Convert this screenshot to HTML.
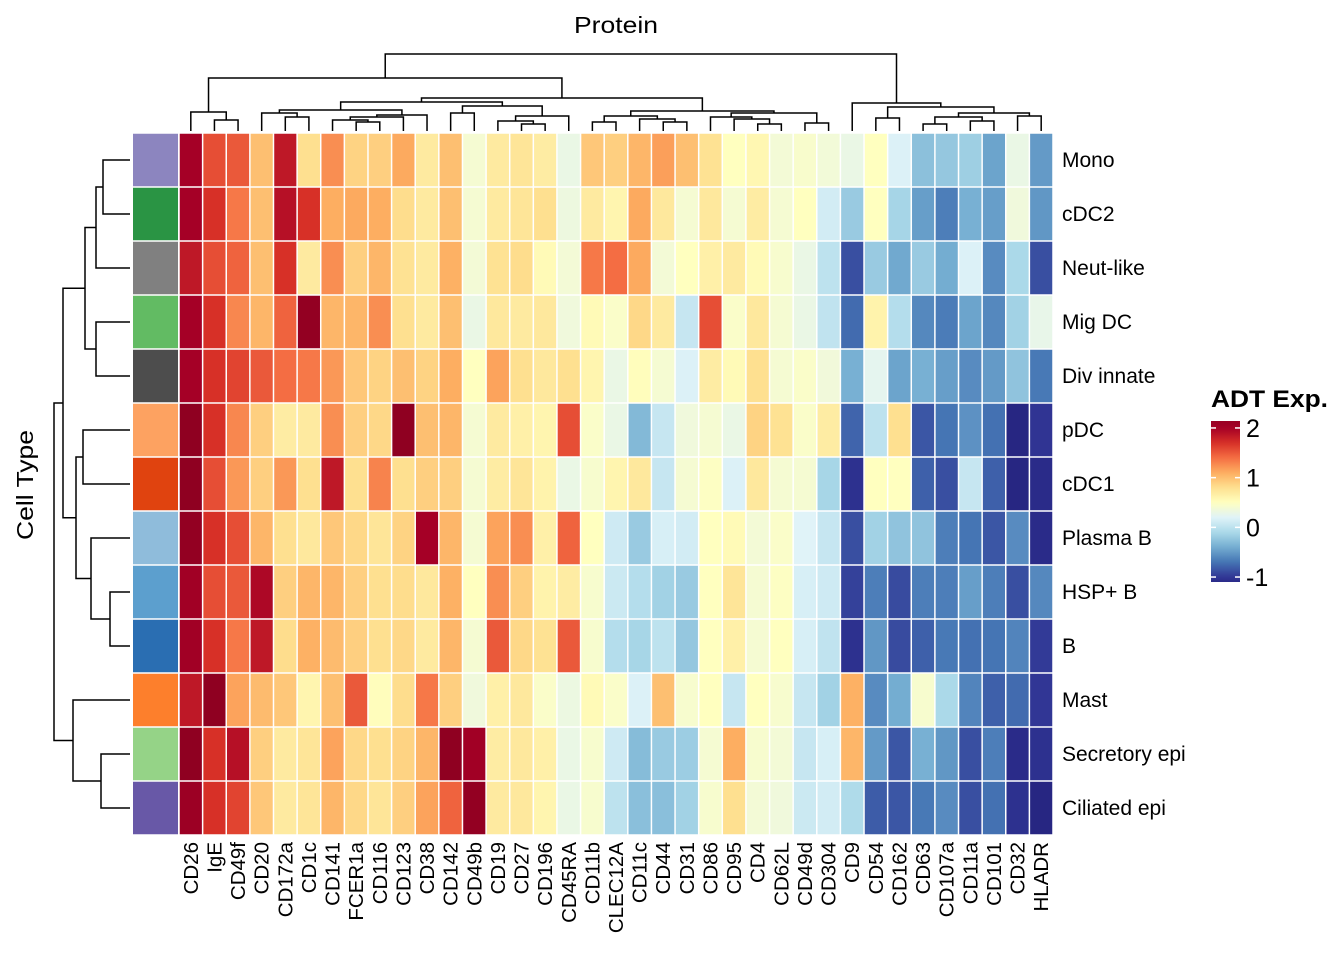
<!DOCTYPE html>
<html><head><meta charset="utf-8"><style>
body{margin:0;background:#fff;}
svg{display:block;font-family:"Liberation Sans",Arial,sans-serif;}
</style></head><body>
<svg id="chart" width="1344" height="960" viewBox="0 0 1344 960">
<text x="574" y="33" font-size="23" textLength="84" lengthAdjust="spacingAndGlyphs">Protein</text>
<text transform="translate(33,540) rotate(-90)" font-size="23" textLength="110" lengthAdjust="spacingAndGlyphs">Cell Type</text>
<g id="dendroCol"></g>
<g id="dendroRow"></g>
<g id="annot"></g>
<g id="cells"></g>
<g id="colLabels"></g>
<g id="rowLabels"></g>
<g id="legend">
<text x="1211" y="407" font-size="24" font-weight="bold" textLength="117" lengthAdjust="spacingAndGlyphs">ADT Exp.</text>
</g>
</svg>
<script>
const proteins=["CD26","IgE","CD49f","CD20","CD172a","CD1c","CD141","FCER1a","CD116","CD123","CD38","CD142","CD49b","CD19","CD27","CD196","CD45RA","CD11b","CLEC12A","CD11c","CD44","CD31","CD86","CD95","CD4","CD62L","CD49d","CD304","CD9","CD54","CD162","CD63","CD107a","CD11a","CD101","CD32","HLADR"];
const cellTypes=["Mono","cDC2","Neut-like","Mig DC","Div innate","pDC","cDC1","Plasma B","HSP+ B","B","Mast","Secretory epi","Ciliated epi"];
const annotColors=["#8c85bf","#2a9444","#808080","#62bb63","#4d4d4d","#fda261","#e0430f","#8fbcdb","#5c9fce","#2a6eb2","#fd7f2c","#95d387","#6858a7"];
const rowMono=[2.0,1.55,1.5,1.0,1.85,0.8,1.25,0.88,0.9,1.12,0.7,1.0,0.4,0.7,0.75,0.68,0.3,0.95,0.9,1.05,1.17,1.0,0.78,0.5,0.58,0.38,0.43,0.37,0.3,0.5,0.18,-0.27,-0.22,-0.17,-0.45,0.3,-0.5];
const rowCDC2=[2.0,1.7,1.35,1.0,1.9,1.7,1.1,1.12,1.1,0.82,0.7,1.0,0.4,0.7,0.75,0.8,0.33,0.7,0.6,1.12,0.72,0.4,0.72,0.4,0.68,0.4,0.5,0.12,-0.2,0.5,-0.13,-0.48,-0.65,-0.38,-0.48,0.35,-0.52];
const rowNeut=[1.85,1.55,1.45,1.0,1.7,0.7,1.25,0.9,1.05,0.78,0.7,1.08,0.38,0.78,0.82,0.55,0.38,1.35,1.4,1.12,0.38,0.5,0.65,0.7,0.55,0.42,0.3,0.0,-0.88,-0.2,-0.42,-0.2,-0.4,0.18,-0.58,-0.1,-0.88];
const rowMigDC=[2.0,1.7,1.28,1.05,1.45,2.2,1.05,1.05,1.25,0.8,0.7,1.0,0.3,0.72,0.7,0.72,0.35,0.55,0.45,0.85,0.7,0.05,1.55,0.45,0.72,0.4,0.3,0.02,-0.75,0.62,-0.05,-0.6,-0.66,-0.45,-0.6,-0.15,0.28];
const rowDiv=[2.0,1.7,1.6,1.5,1.4,1.35,1.2,0.95,0.88,1.0,0.88,1.1,0.5,1.15,0.8,0.72,0.8,0.6,0.3,0.52,0.4,0.18,0.68,0.55,0.8,0.4,0.45,0.36,-0.38,0.25,-0.45,-0.38,-0.48,-0.58,-0.5,-0.25,-0.68];
const rowPDC=[2.25,1.7,1.28,0.9,0.68,0.7,1.25,0.9,0.85,2.25,1.0,1.05,0.4,0.7,0.65,0.6,1.55,0.45,0.3,-0.32,0.05,0.35,0.4,0.3,0.88,0.78,0.45,0.68,-0.78,0.0,0.8,-0.85,-0.7,-0.55,-0.72,-1.15,-1.02];
const rowCDC1=[2.25,1.55,1.2,0.9,1.2,0.8,1.85,0.8,1.3,0.8,0.9,0.9,0.4,0.68,0.75,0.62,0.3,0.42,0.6,0.72,0.05,0.4,0.48,0.18,0.72,0.4,0.4,-0.12,-1.05,0.5,0.5,-0.8,-0.88,0.05,-0.8,-1.15,-1.1];
const rowPlasmaB=[2.2,1.7,1.55,1.05,0.8,0.72,0.95,0.85,0.75,0.88,2.0,1.05,0.4,1.15,1.25,0.65,1.45,0.5,0.1,-0.2,0.15,0.12,0.5,0.55,0.38,0.45,0.2,0.05,-0.88,-0.15,-0.25,-0.25,-0.65,-0.7,-0.85,-0.58,-1.1];
const rowHSPB=[2.05,1.55,1.5,1.95,0.9,1.05,1.05,0.9,0.8,0.82,0.72,1.08,0.5,1.25,0.9,0.62,0.68,0.42,0.08,-0.05,-0.15,-0.2,0.5,0.75,0.4,0.48,0.15,0.1,-0.95,-0.65,-0.9,-0.65,-0.65,-0.48,-0.65,-0.88,-0.6];
const rowB=[2.05,1.7,1.35,1.85,0.82,1.08,1.02,0.9,0.8,0.85,0.7,1.05,0.4,1.5,0.85,0.78,1.5,0.42,-0.05,-0.12,0.0,-0.22,0.5,0.65,0.4,0.5,0.15,0.02,-1.05,-0.52,-0.9,-0.8,-0.68,-0.72,-0.7,-0.62,-0.98];
const rowMast=[1.85,2.25,1.15,1.02,0.95,0.6,1.0,1.5,0.52,0.82,1.35,0.9,0.35,0.65,0.72,0.45,0.32,0.55,0.45,0.18,1.0,0.42,0.5,0.05,0.5,0.42,0.05,-0.15,1.08,-0.58,-0.4,0.42,-0.1,-0.62,-0.8,-0.75,-1.0];
const rowSecEpi=[2.25,1.7,1.9,0.9,0.7,0.75,1.15,0.85,0.8,0.88,1.05,2.25,2.05,0.68,0.72,0.65,0.3,0.42,0.1,-0.3,-0.2,-0.18,0.4,1.1,0.42,0.38,0.05,0.15,1.05,-0.5,-0.85,-0.38,-0.52,-0.88,-0.65,-1.1,-1.05];
const rowCilEpi=[2.1,1.7,1.6,0.95,0.7,0.75,1.05,0.85,0.75,0.9,1.15,1.45,2.2,0.7,0.72,0.6,0.3,0.42,0.0,-0.28,-0.28,-0.15,0.42,0.8,0.38,0.35,0.08,0.12,-0.08,-0.82,-0.85,-0.68,-0.58,-0.88,-0.72,-1.05,-1.15];
const values=[rowMono,rowCDC2,rowNeut,rowMigDC,rowDiv,rowPDC,rowCDC1,rowPlasmaB,rowHSPB,rowB,rowMast,rowSecEpi,rowCilEpi];
const legendTicks=[2,1,0,-1];

const NS="http://www.w3.org/2000/svg";
const X0=179,Y0=133,CW=874/37,RH=702/13;
const stops=[[-1.2,"#23217c"],[-1.0,"#313695"],[-0.7,"#4575b4"],[-0.4,"#74add1"],[-0.1,"#abd9e9"],[0.2,"#e0f3f8"],[0.5,"#ffffbf"],[0.8,"#fee090"],[1.1,"#fdae61"],[1.4,"#f46d43"],[1.7,"#d73027"],[2.0,"#a50026"],[2.3,"#8a0020"]];
function hex(c){return [1,3,5].map(i=>parseInt(c.substr(i,2),16));}
function color(v){
  if(v<=stops[0][0])return stops[0][1];
  if(v>=stops[stops.length-1][0])return stops[stops.length-1][1];
  for(let i=0;i<stops.length-1;i++){const a=stops[i],b=stops[i+1];
    if(v>=a[0]&&v<=b[0]){const t=(v-a[0])/(b[0]-a[0]);const ca=hex(a[1]),cb=hex(b[1]);
      return "rgb("+ca.map((x,k)=>Math.round(x+(cb[k]-x)*t)).join(",")+")";}}
}
const xScale=i=>X0+i*CW, yScale=j=>Y0+j*RH;
function mk(tag,attrs,parent){const e=document.createElementNS(NS,tag);for(const k in attrs)e.setAttribute(k,attrs[k]);parent.appendChild(e);return e;}

const gc=document.getElementById("cells");
values.forEach((row,j)=>row.forEach((v,i)=>{
  const r=mk("rect",{x:xScale(i)+0.75,y:yScale(j)+0.75,width:CW-1.5,height:RH-1.5,fill:color(v)},gc);
  
  
}));
const ga=document.getElementById("annot");
annotColors.forEach((c,j)=>{
  const r=mk("rect",{x:133,y:yScale(j)+0.75,width:45,height:RH-1.5,fill:c},ga);
  
  
});
const gcl=document.getElementById("colLabels");
proteins.forEach((p,i)=>{
  const cx=xScale(i)+CW/2+7;
  const t=mk("text",{transform:"translate("+cx+",842) rotate(-90)","font-size":"20.5","text-anchor":"end"},gcl);
  t.textContent=p;
  
  
});
const grl=document.getElementById("rowLabels");
cellTypes.forEach((c,j)=>{
  const t=mk("text",{x:1062,y:yScale(j)+RH/2+7,"font-size":"21"},grl);
  t.textContent=c;
  
  
});
function L(i){return {leaf:i};}
function N(a,b,h){return {a:a,b:b,h:h};}
const colTree=N(
  N(N(L(0),N(L(1),L(2),120),112),
    N(N(N(N(L(3),N(L(4),L(5),117),113),N(N(N(L(6),N(L(7),L(8),122),120),L(9),117),L(10),115),110),
        N(N(L(11),L(12),113),N(N(L(13),N(L(14),L(15),124),121),L(16),116),106),102),
      N(N(N(L(17),L(18),122),N(L(19),N(L(20),L(21),122),119),116),
        N(N(L(22),N(L(23),N(L(24),L(25),124),119),117),N(L(26),L(27),123),113),111),98),78),
  N(L(28),N(N(L(29),L(30),118),N(N(N(L(31),L(32),124),N(L(33),L(34),121),117),N(L(35),L(36),116),113),107),103),54);
const gd=document.getElementById("dendroCol");
function drawCol(n){
  if(n.leaf!==undefined)return {x:xScale(n.leaf)+CW/2,y:131};
  const A=drawCol(n.a),B=drawCol(n.b);
  const p=mk("path",{d:`M${A.x},${A.y}V${n.h}H${B.x}V${B.y}`,fill:"none",stroke:"#000","stroke-width":"1.5"},gd);
  
  
  return {x:(A.x+B.x)/2,y:n.h};
}
drawCol(colTree);
const rowTree=N(
  N(N(N(N(L(0),L(1),103),L(2),96),N(L(3),L(4),96),85),
    N(N(L(5),L(6),83),N(L(7),N(L(8),L(9),110),91),76),63),
  N(L(10),N(L(11),L(12),101),73),54);
const gr=document.getElementById("dendroRow");
function drawRow(n){
  if(n.leaf!==undefined)return {x:130,y:yScale(n.leaf)+RH/2};
  const A=drawRow(n.a),B=drawRow(n.b);
  const p=mk("path",{d:`M${A.x},${A.y}H${n.h}V${B.y}H${B.x}`,fill:"none",stroke:"#000","stroke-width":"1.5"},gr);
  
  
  return {x:n.h,y:(A.y+B.y)/2};
}
drawRow(rowTree);
const gl=document.getElementById("legend");
const lgTop=421,lgBot=582,vTop=2.14,vBot=-1.1;
const ly=v=>lgTop+(vTop-v)/(vTop-vBot)*(lgBot-lgTop);
const defs=mk("defs",{},gl);
const grad=mk("linearGradient",{id:"lg",x1:"0",y1:"0",x2:"0",y2:"1"},defs);
for(let k=0;k<=40;k++){const v=vTop-(vTop-vBot)*k/40;mk("stop",{offset:(k/40),"stop-color":color(v)},grad);}
const bar=mk("rect",{x:1211,y:lgTop,width:29,height:lgBot-lgTop,fill:"url(#lg)"},gl);


legendTicks.forEach(v=>{
  const y=ly(v);
  mk("line",{x1:1211,x2:1216,y1:y,y2:y,stroke:"#fff","stroke-width":"1.5"},gl);
  mk("line",{x1:1235,x2:1240,y1:y,y2:y,stroke:"#fff","stroke-width":"1.5"},gl);
  const t=mk("text",{x:1246,y:y+9,"font-size":"25"},gl);
  t.textContent=v<0?"-"+Math.abs(v):String(v);
  
  
});
</script>
</body></html>
